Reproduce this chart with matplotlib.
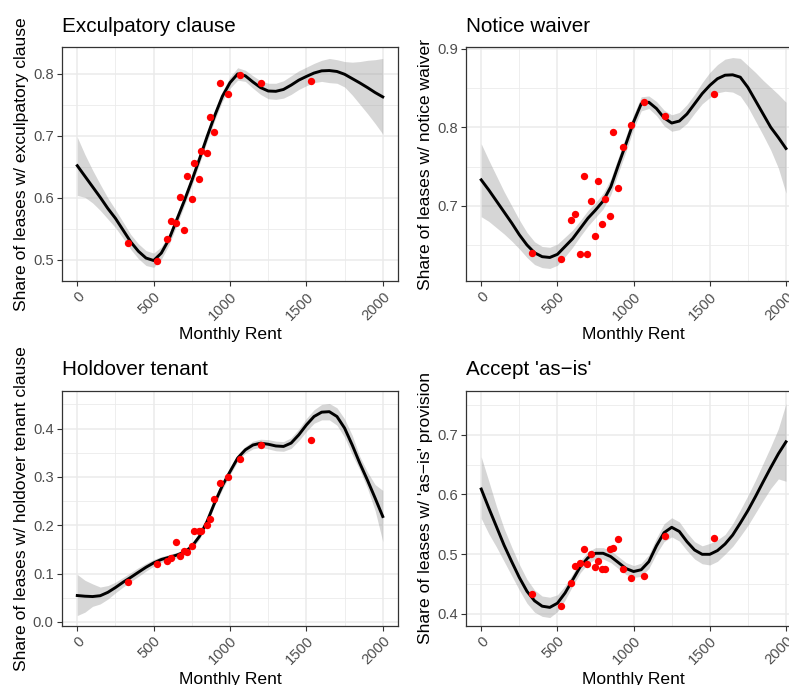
import numpy as np
import matplotlib
matplotlib.use("Agg")
import matplotlib.pyplot as plt
from matplotlib.ticker import MultipleLocator, FormatStrFormatter

plt.rcParams["font.family"] = ["Liberation Sans", "DejaVu Sans"]

# binned observations (monthly rent, share of leases with the clause)
RENT = [331, 525, 586, 615, 647, 672, 697, 720, 748, 765,
        794, 812, 846, 866, 895, 933, 986, 1065, 1205, 1527]
EXC_PTS = [0.528, 0.498, 0.534, 0.562, 0.559, 0.602, 0.549, 0.635, 0.598, 0.657,
           0.631, 0.675, 0.673, 0.730, 0.707, 0.785, 0.768, 0.798, 0.785, 0.789]
NOT_PTS = [0.640, 0.632, 0.682, 0.689, 0.639, 0.738, 0.638, 0.706, 0.661, 0.731,
           0.677, 0.709, 0.687, 0.794, 0.722, 0.775, 0.803, 0.832, 0.815, 0.842]
HOLD_PTS = [0.083, 0.119, 0.126, 0.132, 0.165, 0.137, 0.147, 0.145, 0.156, 0.187,
            0.189, 0.189, 0.200, 0.212, 0.254, 0.288, 0.300, 0.337, 0.366, 0.377]
ASIS_PTS = [0.434, 0.414, 0.452, 0.481, 0.486, 0.509, 0.483, 0.501, 0.479, 0.489,
            0.475, 0.476, 0.508, 0.510, 0.526, 0.476, 0.460, 0.463, 0.531, 0.527]

# smoothed fit at rent = 0, 50, ..., 2000
FIT_X = np.arange(0, 2001, 50)
EXC_FIT = [0.652, 0.635, 0.618, 0.601, 0.583, 0.567, 0.548, 0.529, 0.514, 0.503,
           0.499, 0.511, 0.533, 0.564, 0.595, 0.628, 0.663, 0.699, 0.733, 0.764,
           0.786, 0.800, 0.797, 0.787, 0.778, 0.7725, 0.772, 0.775, 0.782, 0.790,
           0.796, 0.8015, 0.805, 0.8055, 0.804, 0.7995, 0.7925, 0.7855, 0.778, 0.770,
           0.763]
EXC_HI = [0.698, 0.670, 0.645, 0.622, 0.600, 0.581, 0.561, 0.541, 0.526, 0.515,
          0.511, 0.521, 0.542, 0.573, 0.603, 0.636, 0.671, 0.707, 0.741, 0.772,
          0.795, 0.810, 0.806, 0.797, 0.789, 0.785, 0.785, 0.789, 0.797, 0.805,
          0.811, 0.817, 0.822, 0.825, 0.823, 0.820, 0.819, 0.820, 0.822, 0.823,
          0.825]
EXC_LO = [0.604, 0.601, 0.592, 0.580, 0.566, 0.552, 0.535, 0.517, 0.502, 0.491,
          0.488, 0.501, 0.524, 0.555, 0.587, 0.620, 0.655, 0.691, 0.725, 0.756,
          0.777, 0.790, 0.788, 0.777, 0.767, 0.760, 0.759, 0.761, 0.767, 0.775,
          0.781, 0.786, 0.788, 0.786, 0.785, 0.779, 0.766, 0.751, 0.736, 0.720,
          0.703]
NOT_FIT = [0.733, 0.720, 0.706, 0.692, 0.678, 0.663, 0.650, 0.640, 0.635, 0.634,
           0.638, 0.648, 0.658, 0.671, 0.684, 0.6945, 0.706, 0.724, 0.752, 0.779,
           0.807, 0.830, 0.832, 0.824, 0.812, 0.8055, 0.808, 0.817, 0.830, 0.843,
           0.8535, 0.862, 0.8665, 0.867, 0.864, 0.851, 0.834, 0.817, 0.800, 0.787,
           0.773]
NOT_HI = [0.779, 0.758, 0.738, 0.718, 0.700, 0.682, 0.666, 0.654, 0.648, 0.647,
          0.651, 0.660, 0.669, 0.681, 0.694, 0.704, 0.716, 0.734, 0.762, 0.789,
          0.816, 0.839, 0.840, 0.833, 0.822, 0.816, 0.819, 0.829, 0.842, 0.857,
          0.870, 0.880, 0.887, 0.889, 0.888, 0.879, 0.870, 0.860, 0.851, 0.842,
          0.832]
NOT_LO = [0.686, 0.680, 0.672, 0.664, 0.655, 0.645, 0.634, 0.625, 0.621, 0.620,
          0.624, 0.635, 0.647, 0.661, 0.674, 0.685, 0.696, 0.714, 0.742, 0.769,
          0.798, 0.821, 0.824, 0.815, 0.802, 0.795, 0.797, 0.805, 0.818, 0.830,
          0.838, 0.844, 0.846, 0.845, 0.840, 0.826, 0.808, 0.790, 0.771, 0.748,
          0.716]
HOLD_FIT = [0.0544, 0.053, 0.0523, 0.054, 0.061, 0.071, 0.082, 0.092, 0.1026, 0.113,
            0.122, 0.129, 0.1335, 0.138, 0.144, 0.156, 0.177, 0.208, 0.247, 0.282,
            0.311, 0.339, 0.356, 0.366, 0.3697, 0.3676, 0.364, 0.363, 0.370, 0.387,
            0.4076, 0.425, 0.434, 0.435, 0.425, 0.401, 0.366, 0.328, 0.293, 0.256,
            0.218]
HOLD_HI = [0.098, 0.086, 0.0785, 0.072, 0.075, 0.082, 0.092, 0.102, 0.112, 0.121,
           0.129, 0.135, 0.139, 0.1435, 0.150, 0.162, 0.183, 0.214, 0.253, 0.290,
           0.318, 0.346, 0.363, 0.374, 0.378, 0.377, 0.374, 0.373, 0.381, 0.399,
           0.421, 0.439, 0.450, 0.452, 0.443, 0.420, 0.386, 0.342, 0.310, 0.284,
           0.272]
HOLD_LO = [0.013, 0.020, 0.032, 0.037, 0.047, 0.060, 0.072, 0.083, 0.094, 0.105,
           0.115, 0.123, 0.128, 0.1325, 0.138, 0.150, 0.171, 0.202, 0.241, 0.274,
           0.304, 0.332, 0.349, 0.358, 0.361, 0.358, 0.354, 0.353, 0.359, 0.375,
           0.394, 0.411, 0.418, 0.418, 0.407, 0.382, 0.346, 0.314, 0.276, 0.230,
           0.166]
ASIS_FIT = [0.609, 0.577, 0.546, 0.515, 0.4875, 0.461, 0.438, 0.422, 0.413, 0.411,
            0.418, 0.435, 0.457, 0.479, 0.494, 0.5015, 0.5015, 0.496, 0.486, 0.476,
            0.471, 0.474, 0.4875, 0.514, 0.536, 0.545, 0.538, 0.521, 0.507, 0.4998,
            0.4998, 0.506, 0.517, 0.532, 0.552, 0.573, 0.5965, 0.621, 0.645, 0.668,
            0.688]
ASIS_HI = [0.663, 0.622, 0.580, 0.543, 0.512, 0.483, 0.458, 0.440, 0.430, 0.428,
           0.432, 0.447, 0.467, 0.489, 0.504, 0.511, 0.511, 0.506, 0.496, 0.486,
           0.481, 0.485, 0.499, 0.527, 0.551, 0.561, 0.554, 0.536, 0.521, 0.514,
           0.518, 0.524, 0.533, 0.551, 0.574, 0.598, 0.624, 0.652, 0.680, 0.710,
           0.752]
ASIS_LO = [0.560, 0.534, 0.512, 0.488, 0.464, 0.440, 0.418, 0.403, 0.396, 0.394,
           0.404, 0.423, 0.447, 0.469, 0.484, 0.492, 0.492, 0.486, 0.476, 0.466,
           0.461, 0.463, 0.476, 0.501, 0.521, 0.529, 0.522, 0.506, 0.492, 0.484,
           0.482, 0.488, 0.500, 0.513, 0.530, 0.548, 0.569, 0.590, 0.610, 0.626,
           0.622]

PANELS = [
    ("Exculpatory clause", "Share of leases w/ exculpatory clause",
     EXC_PTS, EXC_FIT, EXC_LO, EXC_HI, (0.466, 0.8435)),
    ("Notice waiver", "Share of leases w/ notice waiver",
     NOT_PTS, NOT_FIT, NOT_LO, NOT_HI, (0.604, 0.9025)),
    ("Holdover tenant", "Share of leases w/ holdover tenant clause",
     HOLD_PTS, HOLD_FIT, HOLD_LO, HOLD_HI, (-0.008, 0.4785)),
    ("Accept 'as\u2212is'", "Share of leases w/ 'as\u2212is' provision",
     ASIS_PTS, ASIS_FIT, ASIS_LO, ASIS_HI, (0.3804, 0.7736)),
]
# axes boxes in figure fractions; right column runs past the canvas edge
BOXES = [(0.0786, 0.5898, 0.4259, 0.3416), (0.5906, 0.5898, 0.4249, 0.3416),
         (0.0786, 0.0866, 0.4259, 0.3431), (0.5906, 0.0866, 0.4249, 0.3431)]

fig = plt.figure(figsize=(7.89, 6.85), dpi=100)
for box, (title, ylab, pts, fit, lo, hi, ylim) in zip(BOXES, PANELS):
    ax = fig.add_axes(box)
    ax.set_axisbelow(True)
    ax.fill_between(FIT_X, lo, hi, color="#999999", alpha=0.4, lw=0)
    ax.plot(FIT_X, fit, color="black", lw=2.1, solid_joinstyle="round")
    ax.scatter(RENT, pts, s=28, color="#FF0000", zorder=3, lw=0)
    ax.set_xlim(-100, 2100)
    ax.set_ylim(*ylim)
    ax.set_xticks([0, 500, 1000, 1500, 2000])
    ax.set_xticklabels(["0", "500", "1000", "1500", "2000"], rotation=45,
                       ha="right", va="top", rotation_mode="anchor")
    ax.xaxis.set_minor_locator(MultipleLocator(250))
    ax.yaxis.set_major_locator(MultipleLocator(0.1))
    ax.yaxis.set_minor_locator(MultipleLocator(0.05))
    ax.yaxis.set_major_formatter(FormatStrFormatter("%.1f"))
    ax.grid(True, which="major", color="#EBEBEB", lw=1.1)
    ax.grid(True, which="minor", color="#EBEBEB", lw=0.6)
    ax.tick_params(which="major", length=3.5, width=0.8, color="#333333",
                   labelcolor="#4D4D4D", labelsize=10.6, pad=2.5)
    ax.tick_params(which="minor", length=0)
    for sp in ax.spines.values():
        sp.set_color("#333333")
        sp.set_linewidth(0.9)
    ax.set_title(title, loc="left", fontsize=14.9, pad=11)
    ax.set_xlabel("Monthly Rent", fontsize=12.6, labelpad=3)
    ax.set_ylabel(ylab, fontsize=12.6, labelpad=3)

fig.savefig("out.png", dpi=100)
